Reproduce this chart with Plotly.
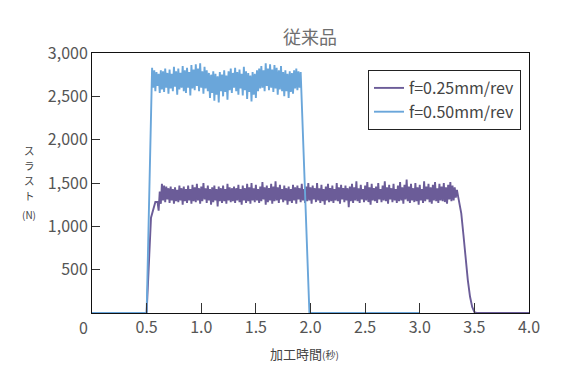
import plotly.graph_objects as go

# ---------------- data ----------------
series_names = ["f=0.25mm/rev", "f=0.50mm/rev"]
sample_step = 0.01  # s between plateau samples

# f=0.50mm/rev  (blue)
blue_lead_t = [0.0, 0.50]
blue_lead_v = [0, 0]
blue_plateau_start = 0.55
blue_plateau = [
    2830, 2600, 2800, 2560, 2780, 2620, 2760, 2540, 2800, 2580,
    2790, 2550, 2820, 2600, 2770, 2530, 2810, 2590, 2760, 2560,
    2840, 2610, 2790, 2520, 2820, 2580, 2770, 2600, 2850, 2560,
    2800, 2540, 2830, 2600, 2780, 2510, 2860, 2590, 2810, 2570,
    2870, 2620, 2820, 2560, 2880, 2600, 2790, 2530, 2840, 2590,
    2800, 2560, 2770, 2480, 2750, 2540, 2790, 2450, 2760, 2520,
    2730, 2430, 2780, 2560, 2750, 2500, 2800, 2550, 2740, 2460,
    2790, 2570, 2820, 2540, 2770, 2600, 2830, 2560, 2780, 2520,
    2810, 2590, 2760, 2510, 2840, 2570, 2790, 2470, 2770, 2550,
    2740, 2440, 2780, 2520, 2760, 2480, 2800, 2560, 2820, 2590,
    2850, 2600, 2800, 2560, 2880, 2620, 2820, 2570, 2870, 2600,
    2810, 2550, 2860, 2590, 2830, 2520, 2800, 2580, 2850, 2560,
    2780, 2500, 2800, 2560, 2760, 2480, 2790, 2550, 2770, 2530,
    2800, 2590, 2820, 2570, 2790, 2600, 2780,
]
blue_tail_t = [1.99, 3.0]
blue_tail_v = [0, 0]

# f=0.25mm/rev  (purple)
purple_lead_t = [0.0, 0.50, 0.54, 0.56, 0.58]
purple_lead_v = [0, 0, 1100, 1200, 1280]
purple_plateau_start = 0.60
purple_plateau = [
    1280, 1180, 1400, 1260, 1490, 1300, 1470, 1280, 1460, 1310,
    1440, 1270, 1460, 1300, 1430, 1260, 1450, 1290, 1420, 1280,
    1470, 1300, 1440, 1250, 1460, 1290, 1430, 1270, 1470, 1300,
    1430, 1260, 1480, 1290, 1450, 1280, 1490, 1300, 1440, 1260,
    1460, 1290, 1500, 1310, 1440, 1270, 1470, 1300, 1430, 1250,
    1450, 1280, 1470, 1300, 1430, 1230, 1460, 1290, 1440, 1270,
    1470, 1290, 1430, 1260, 1490, 1300, 1450, 1280, 1440, 1290,
    1460, 1270, 1440, 1300, 1480, 1280, 1430, 1250, 1470, 1300,
    1440, 1270, 1490, 1290, 1450, 1260, 1500, 1300, 1440, 1280,
    1480, 1300, 1430, 1270, 1460, 1290, 1510, 1310, 1450, 1250,
    1470, 1280, 1440, 1300, 1490, 1260, 1460, 1290, 1520, 1300,
    1450, 1270, 1480, 1310, 1430, 1280, 1470, 1300, 1440, 1250,
    1460, 1290, 1430, 1270, 1480, 1300, 1450, 1260, 1470, 1310,
    1440, 1280, 1490, 1300, 1430, 1270, 1460, 1290, 1500, 1300,
    1450, 1260, 1470, 1310, 1440, 1280, 1500, 1300, 1440, 1270,
    1480, 1290, 1430, 1250, 1460, 1300, 1490, 1280, 1440, 1290,
    1470, 1270, 1430, 1300, 1500, 1290, 1450, 1260, 1480, 1310,
    1440, 1280, 1470, 1300, 1440, 1220, 1460, 1290, 1490, 1270,
    1450, 1300, 1520, 1290, 1440, 1270, 1480, 1310, 1430, 1280,
    1470, 1300, 1510, 1280, 1450, 1250, 1490, 1300, 1440, 1290,
    1460, 1270, 1500, 1310, 1430, 1280, 1470, 1300, 1520, 1290,
    1450, 1260, 1480, 1310, 1440, 1280, 1490, 1300, 1430, 1270,
    1470, 1290, 1510, 1300, 1450, 1260, 1480, 1310, 1540, 1290,
    1460, 1270, 1490, 1300, 1440, 1280, 1500, 1290, 1450, 1250,
    1480, 1300, 1430, 1270, 1520, 1290, 1460, 1310, 1490, 1280,
    1450, 1260, 1480, 1300, 1510, 1290, 1440, 1270, 1490, 1300,
    1460, 1290, 1500, 1280, 1450, 1260, 1480, 1310, 1510, 1290,
    1470, 1300, 1450, 1330, 1420,
]
purple_tail_t = [3.36, 3.38, 3.40, 3.42, 3.44, 3.46, 3.48, 3.50, 3.52, 4.0]
purple_tail_v = [1300, 1150, 900, 620, 380, 190, 70, 10, 0, 0]

x_tickvals = [0.5, 1.0, 1.5, 2.0, 2.5, 3.0, 3.5, 4.0]
x_ticktext = ["0.5", "1.0", "1.5", "2.0", "2.5", "3.0", "3.5", "4.0"]
y_tickvals = [500, 1000, 1500, 2000, 2500, 3000]
y_ticktext = ["500", "1,000", "1,500", "2,000", "2,500", "3,000"]

title_text = "従来品"
x_title = "加工時間<span style='font-size:10px'>(秒)</span>"
y_title = "スラスト"
y_unit = "(N)"


def build(lead_t, lead_v, start, plateau, tail_t, tail_v):
    pt = [round(start + i * sample_step, 4) for i in range(len(plateau))]
    return lead_t + pt + tail_t, lead_v + plateau + tail_v


px_t, px_v = build(purple_lead_t, purple_lead_v, purple_plateau_start,
                   purple_plateau, purple_tail_t, purple_tail_v)
bx_t, bx_v = build(blue_lead_t, blue_lead_v, blue_plateau_start,
                   blue_plateau, blue_tail_t, blue_tail_v)

PURPLE = "#6b5c98"
BLUE = "#6aa6da"
FONT = "Noto Sans CJK JP"
TXT = "#555555"

W, H = 570, 380
ML, MR, MT, MB = 92, 41, 53, 67
PW = W - ML - MR
PH = H - MT - MB


def py(ypx):
    """page pixel row -> paper y"""
    return (H - MB - ypx) / PH


def pxx(xpx):
    """page pixel column -> paper x"""
    return (xpx - ML) / PW


fig = go.Figure()
fig.add_trace(go.Scatter(x=px_t, y=px_v, mode="lines", name=series_names[0],
                         line=dict(color=PURPLE, width=1.9)))
fig.add_trace(go.Scatter(x=bx_t, y=bx_v, mode="lines", name=series_names[1],
                         line=dict(color=BLUE, width=1.9)))

annotations = [
    dict(text="0", xref="paper", yref="paper", x=0, y=0, xshift=-9,
         yshift=-14, xanchor="center", yanchor="middle",
         showarrow=False, font=dict(size=16, color=TXT)),
    dict(text=x_title, xref="paper", yref="paper", x=pxx(304), y=py(353),
         xanchor="center", yanchor="middle", showarrow=False,
         font=dict(size=13, color="#444444")),
    dict(text=y_unit, xref="paper", yref="paper", x=pxx(29), y=py(214),
         xanchor="center", yanchor="middle", showarrow=False,
         font=dict(size=10, color="#444444")),
]
for i, ch in enumerate(y_title):
    annotations.append(dict(text=ch, xref="paper", yref="paper",
                            x=pxx(29), y=py(150 + 15 * i),
                            xanchor="center", yanchor="middle",
                            showarrow=False,
                            font=dict(size=10.5, color="#444444")))

fig.update_layout(
    width=W, height=H,
    margin=dict(l=ML, r=MR, t=MT, b=MB),
    paper_bgcolor="white", plot_bgcolor="white",
    font=dict(family=FONT, color=TXT, size=16),
    title=dict(text=title_text, x=pxx(310) * PW / W + ML / W,
               xanchor="center", y=1 - 38 / H, yanchor="middle",
               font=dict(size=18, color="#6e6e6e")),
    showlegend=True,
    legend=dict(x=pxx(521), y=py(70), xanchor="right", yanchor="top",
                bordercolor="#222222", borderwidth=1, bgcolor="white",
                font=dict(size=16, color="#444444"), itemwidth=30,
                tracegroupgap=0),
    xaxis=dict(range=[0, 4], tickvals=x_tickvals, ticktext=x_ticktext,
               ticks="inside", ticklen=10, tickcolor="#333333",
               showgrid=False, zeroline=False, showline=True,
               linecolor="#111111", linewidth=1, mirror=True,
               tickfont=dict(size=16, color=TXT)),
    yaxis=dict(range=[0, 3000], tickvals=y_tickvals, ticktext=y_ticktext,
               ticks="inside", ticklen=8, tickcolor="#333333",
               showgrid=False, zeroline=False, showline=True,
               linecolor="#111111", linewidth=1, mirror=True,
               tickfont=dict(size=16, color=TXT)),
    annotations=annotations,
)

fig.write_html("out.html", config={"displayModeBar": False},
               post_script="document.body.style.margin='0';")
